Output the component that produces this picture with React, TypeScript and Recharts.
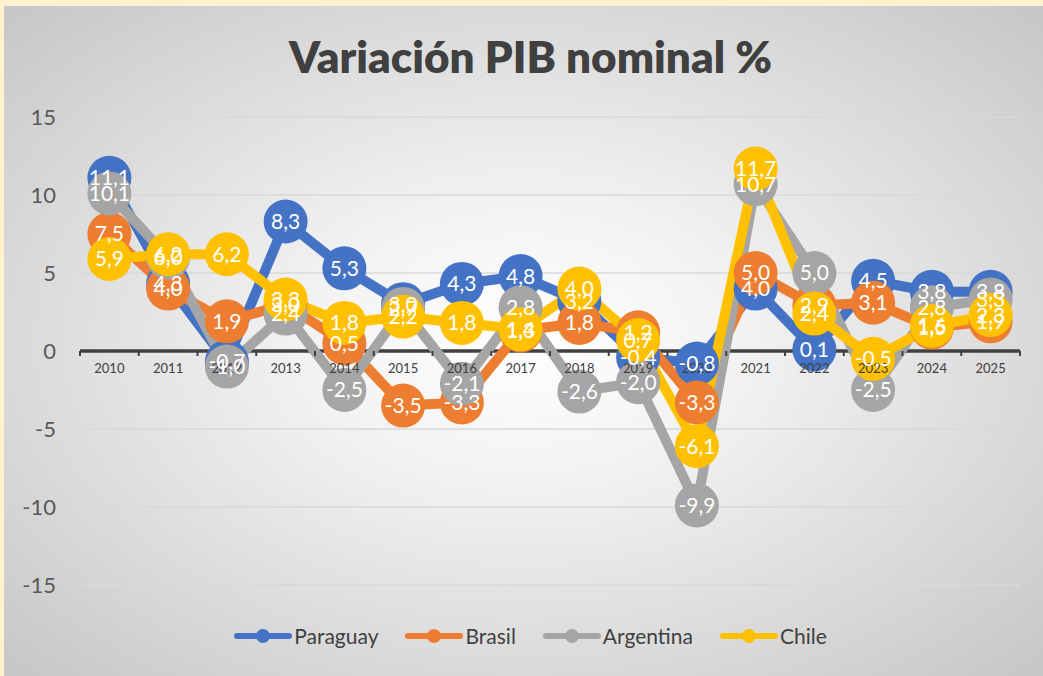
import React from 'react';
import { LineChart, Line, XAxis, YAxis, CartesianGrid, ReferenceLine, LabelList, Legend } from 'recharts';

const years = ['2010','2011','2012','2013','2014','2015','2016','2017','2018','2019','2020','2021','2022','2023','2024','2025'];
const paraguay = [11.1, 4.3, -0.7, 8.3, 5.3, 3.0, 4.3, 4.8, 3.2, -0.4, -0.8, 4.0, 0.1, 4.5, 3.8, 3.8];
const brasil = [7.5, 4.0, 1.9, 3.0, 0.5, -3.5, -3.3, 1.3, 1.8, 1.2, -3.3, 5.0, 2.9, 3.1, 1.5, 1.9];
const argentina = [10.1, 6.0, -1.0, 2.4, -2.5, 2.7, -2.1, 2.8, -2.6, -2.0, -9.9, 10.7, 5.0, -2.5, 2.8, 3.3];
const chile = [5.9, 6.2, 6.2, 3.3, 1.8, 2.2, 1.8, 1.4, 4.0, 0.7, -6.1, 11.7, 2.4, -0.5, 1.6, 2.3];
const yTicks = [-15, -10, -5, 0, 5, 10, 15];

const series = [
  { key: 'Paraguay', color: '#4472C4', values: paraguay },
  { key: 'Brasil', color: '#ED7D31', values: brasil },
  { key: 'Argentina', color: '#A5A5A5', values: argentina },
  { key: 'Chile', color: '#FFC000', values: chile },
];

const data = years.map((y, i) => {
  const row: any = { year: y };
  series.forEach(s => { row[s.key] = s.values[i]; });
  return row;
});

const FONT = 'Lato, "Open Sans", sans-serif';
const W = 1039;
const H = 670;
const X_AXIS_H = 30;
const M = { top: 111, right: 23, bottom: 91 - X_AXIS_H, left: 0 };
const Y_AXIS_W = 76;
const plotTop = M.top;
const plotBottom = H - M.bottom - X_AXIS_H;
const zeroY = (plotTop + plotBottom) / 2;
const band = (W - M.right - Y_AXIS_W) / years.length;

const fmt = (v: any) => (typeof v === 'number' ? v.toFixed(1).replace('.', ',') : v);

const XTick = (props: any) => {
  const { x, payload, index } = props;
  const half = band / 2;
  return (
    <g>
      <line x1={x - half} x2={x - half} y1={zeroY} y2={zeroY + 5} stroke="#404040" strokeWidth={2} />
      {index === years.length - 1 && (
        <line x1={x + half} x2={x + half} y1={zeroY} y2={zeroY + 5} stroke="#404040" strokeWidth={2} />
      )}
      <text x={x} y={zeroY + 22} textAnchor="middle" fill="#404040" fontSize={13} fontFamily={FONT}>
        {payload.value}
      </text>
    </g>
  );
};

const LegendContent = () => (
  <div style={{ display: 'flex', justifyContent: 'center', alignItems: 'center', fontFamily: FONT, paddingLeft: 14 }}>
    {series.map((s, i) => (
      <div key={s.key} style={{ display: 'flex', alignItems: 'center', marginRight: i < series.length - 1 ? 27 : 0 }}>
        <svg width={58} height={16} style={{ display: 'block' }}>
          <line x1={3} x2={55} y1={8} y2={8} stroke={s.color} strokeWidth={6} strokeLinecap="round" />
          <circle cx={29} cy={8} r={7} fill={s.color} />
        </svg>
        <span style={{ fontSize: 21, color: '#404040', marginLeft: 2 }}>{s.key}</span>
      </div>
    ))}
  </div>
);

export default function App() {
  return (
    <div style={{ position: 'absolute', left: 0, top: 0, width: 1043, height: 676, background: '#FFF2CC', overflow: 'hidden' }}>
      <div
        style={{
          position: 'absolute', left: 4, top: 6, width: W, height: H,
          background: 'radial-gradient(ellipse at 50% 50%, #FFFFFF 0%, #F2F2F2 30%, #D6D6D6 75%, #C6C6C6 100%)',
        }}
      >
        <div
          style={{
            position: 'absolute', left: 0, top: 22, width: W, textAlign: 'center', paddingLeft: 14, boxSizing: 'border-box',
            fontFamily: FONT, fontWeight: 800, fontSize: 44, color: '#404040', lineHeight: '56px',
          }}
        >
          Variación PIB nominal %
        </div>
        <LineChart width={W} height={H} data={data} margin={M}>
          <CartesianGrid vertical={false} stroke="#D9D9D9" strokeWidth={1.5} />
          <XAxis
            dataKey="year"
            axisLine={false}
            tickLine={false}
            height={X_AXIS_H}
            tick={<XTick />}
            interval={0}
            padding={{ left: band / 2, right: band / 2 }}
          />
          <YAxis
            domain={[-15, 15]}
            ticks={yTicks}
            width={Y_AXIS_W}
            axisLine={false}
            tickLine={false}
            tickSize={0}
            tickMargin={24}
            tick={{ fill: '#595959', fontSize: 22, fontFamily: FONT }}
          />
          <ReferenceLine y={0} stroke="#404040" strokeWidth={3.5} />
          {series.map(s => (
            <Line
              key={s.key}
              dataKey={s.key}
              stroke={s.color}
              strokeWidth={10}
              dot={{ r: 22, fill: s.color, stroke: s.color, strokeWidth: 0 }}
              activeDot={false}
              isAnimationActive={false}
            />
          ))}
          {series.map(s => (
            <Line
              key={s.key + '-lbl'}
              dataKey={s.key}
              stroke="none"
              dot={false}
              activeDot={false}
              legendType="none"
              isAnimationActive={false}
            >
              <LabelList dataKey={s.key} position="center" formatter={fmt} fill="#FFFFFF" fontSize={21} fontFamily={FONT} />
            </Line>
          ))}
          <Legend
            layout="horizontal"
            verticalAlign="middle"
            align="center"
            content={<LegendContent />}
            wrapperStyle={{ top: 617, left: 0, width: W }}
          />
        </LineChart>
      </div>
    </div>
  );
}
